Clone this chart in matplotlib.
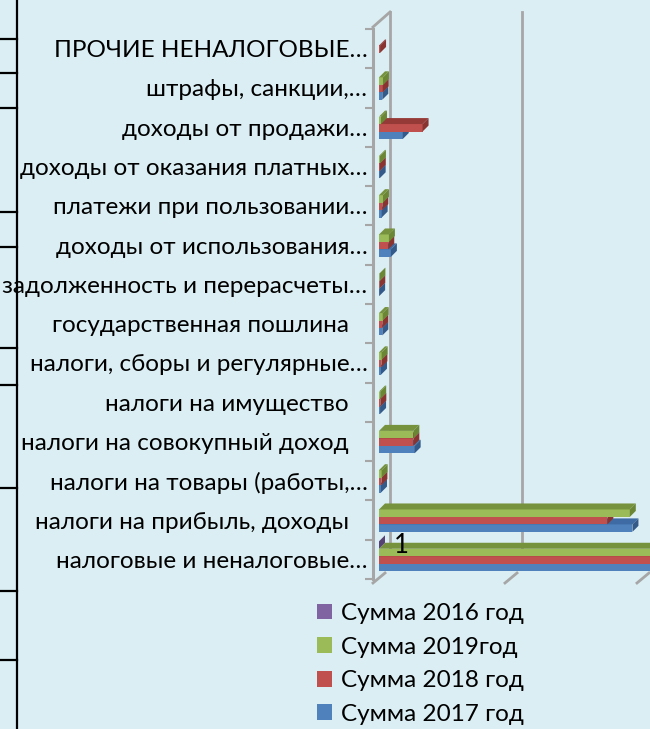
import numpy as np
import matplotlib
matplotlib.use("Agg")
import matplotlib.pyplot as plt
from matplotlib.patches import Polygon, Patch
from matplotlib.lines import Line2D

plt.rcParams['font.family'] = ['Lato', 'DejaVu Sans']

# ---------------- data ----------------
categories = [
    "налоговые и неналоговые…",
    "налоги на прибыль, доходы   ",
    "налоги на товары (работы,…",
    "налоги на совокупный доход   ",
    "налоги на имущество   ",
    "налоги, сборы и регулярные…",
    "государственная пошлина   ",
    "задолженность и перерасчеты…",
    "доходы от использования…",
    "платежи при пользовании…",
    "доходы от оказания платных…",
    "доходы от продажи…",
    "штрафы, санкции,…",
    "ПРОЧИЕ НЕНАЛОГОВЫЕ…",
]
nan = np.nan
sum_2017 = [245000, 192000, 1500, 27000, 800, 1500, 2500, 100, 9000, 2000, 500, 18000, 2500, nan]
sum_2018 = [240000, 173000, 1800, 26000, 1000, 1800, 2500, 200, 7000, 2500, 600, 33000, 2800, 800]
sum_2019 = [242000, 190000, 2000, 26000, 900, 2000, 2800, 300, 7500, 3000, 700, 1500, 3000, nan]
sum_2016 = [1, nan, nan, nan, nan, nan, nan, nan, nan, nan, nan, nan, nan, nan]

series_names = ["Сумма 2017 год", "Сумма 2018 год", "Сумма 2019год", "Сумма 2016 год"]
series_values = [sum_2017, sum_2018, sum_2019, sum_2016]
front_colors = ["#4F81BD", "#C0504D", "#9BBB59", "#8064A2"]
top_colors = ["#3E6BA3", "#963A37", "#76923C", "#604A7F"]
side_colors = ["#345A8A", "#8A3431", "#6B8735", "#574373"]
offsets = [-0.30, -0.11, 0.08, 0.27]
bar_h = 0.19

BG = "#DBEEF3"
GRID = "#A6A6A6"
FS = 17.5

fig = plt.figure(figsize=(6.5, 7.29), dpi=100, facecolor=BG)
W, H = 650, 729
ax = fig.add_axes([373 / W, 150 / H, 277 / W, 550 / H])
ax.set_facecolor(BG)

U = 100000.0
px_x = U / 132.0      # data per pixel (x)
px_y = 1 / 39.3       # data per pixel (y)
xmin = -6 * px_x
xmax = 271 * px_x
ax.set_xlim(xmin, xmax)
ax.set_ylim(-0.5, 13.5)

dx = 6 * px_x
dy = 6 * px_y

# back wall lines
yb_back = -0.5 + 12 * px_y
yt_back = 13.5 + 17 * px_y
for xv in [11 * px_x, 11 * px_x + U]:
    ax.add_line(Line2D([xv, xv], [yb_back, yt_back], color=GRID, lw=2.0, clip_on=False, zorder=1))
ax.add_line(Line2D([xmin, 11 * px_x], [13.5 + 2 * px_y, yt_back], color=GRID, lw=2.0, clip_on=False, zorder=1))
# floor ticks
for xv in [0, U, 2 * U]:
    ax.add_line(Line2D([xv - 6 * px_x, xv + 6 * px_x], [-0.5 - 4 * px_y, -0.5 + 6 * px_y],
                       color=GRID, lw=2.0, clip_on=False, zorder=1))

ypos = np.arange(len(categories))
containers = []
for s, vals in enumerate(series_values):
    vals = np.array(vals, dtype=float)
    idx = np.where(~np.isnan(vals))[0]
    z = 3 + s
    bc = ax.barh(ypos[idx] + offsets[s] + bar_h / 2, vals[idx], height=bar_h, left=0,
                 color=front_colors[s], edgecolor='none', zorder=z, label=series_names[s])
    containers.append(bc)
    for k in idx:
        v = vals[k]
        yb = k + offsets[s]
        yt = yb + bar_h
        top = Polygon([(0, yt), (v, yt), (v + dx, yt + dy), (dx, yt + dy)], closed=True,
                      facecolor=top_colors[s], edgecolor='none', zorder=z)
        side = Polygon([(v, yb), (v + dx, yb + dy), (v + dx, yt + dy), (v, yt)], closed=True,
                       facecolor=side_colors[s], edgecolor='none', zorder=z)
        ax.add_patch(top)
        ax.add_patch(side)

ax.bar_label(containers[3], fmt='%g', padding=11, fontsize=18.5, zorder=10)

ax.set_yticks(ypos)
ax.set_yticklabels(categories, fontsize=FS)
ax.set_yticks(np.arange(-0.5, 14, 1), minor=True)
ax.tick_params(axis='y', which='major', length=0, pad=4)
ax.tick_params(axis='y', which='minor', length=6, width=1.5, color=GRID, direction='out')
ax.set_xticks([])
for sp in ['top', 'right', 'bottom']:
    ax.spines[sp].set_visible(False)
ax.spines['left'].set_color(GRID)
ax.spines['left'].set_linewidth(2.2)

# table border remnants on the left
fig.add_artist(Line2D([17 / W, 17 / W], [0, 1], color='black', lw=1.6, transform=fig.transFigure))
for yp in [39, 73, 108, 212, 247, 348, 385, 488, 591, 660]:
    fig.add_artist(Line2D([0, 17 / W], [1 - yp / H, 1 - yp / H], color='black', lw=1.6,
                          transform=fig.transFigure))

order = [3, 2, 1, 0]
handles = [Patch(facecolor=front_colors[i], edgecolor='none') for i in order]
labels = [series_names[i] for i in order]
fig.legend(handles, labels, loc='upper left', bbox_to_anchor=(317 / W, 1 - 603 / H),
           frameon=False, fontsize=FS, handlelength=0.62, handleheight=0.62,
           handletextpad=0.35, labelspacing=0.52, borderpad=0, borderaxespad=0)

fig.savefig("out.png", dpi=100, facecolor=BG)
